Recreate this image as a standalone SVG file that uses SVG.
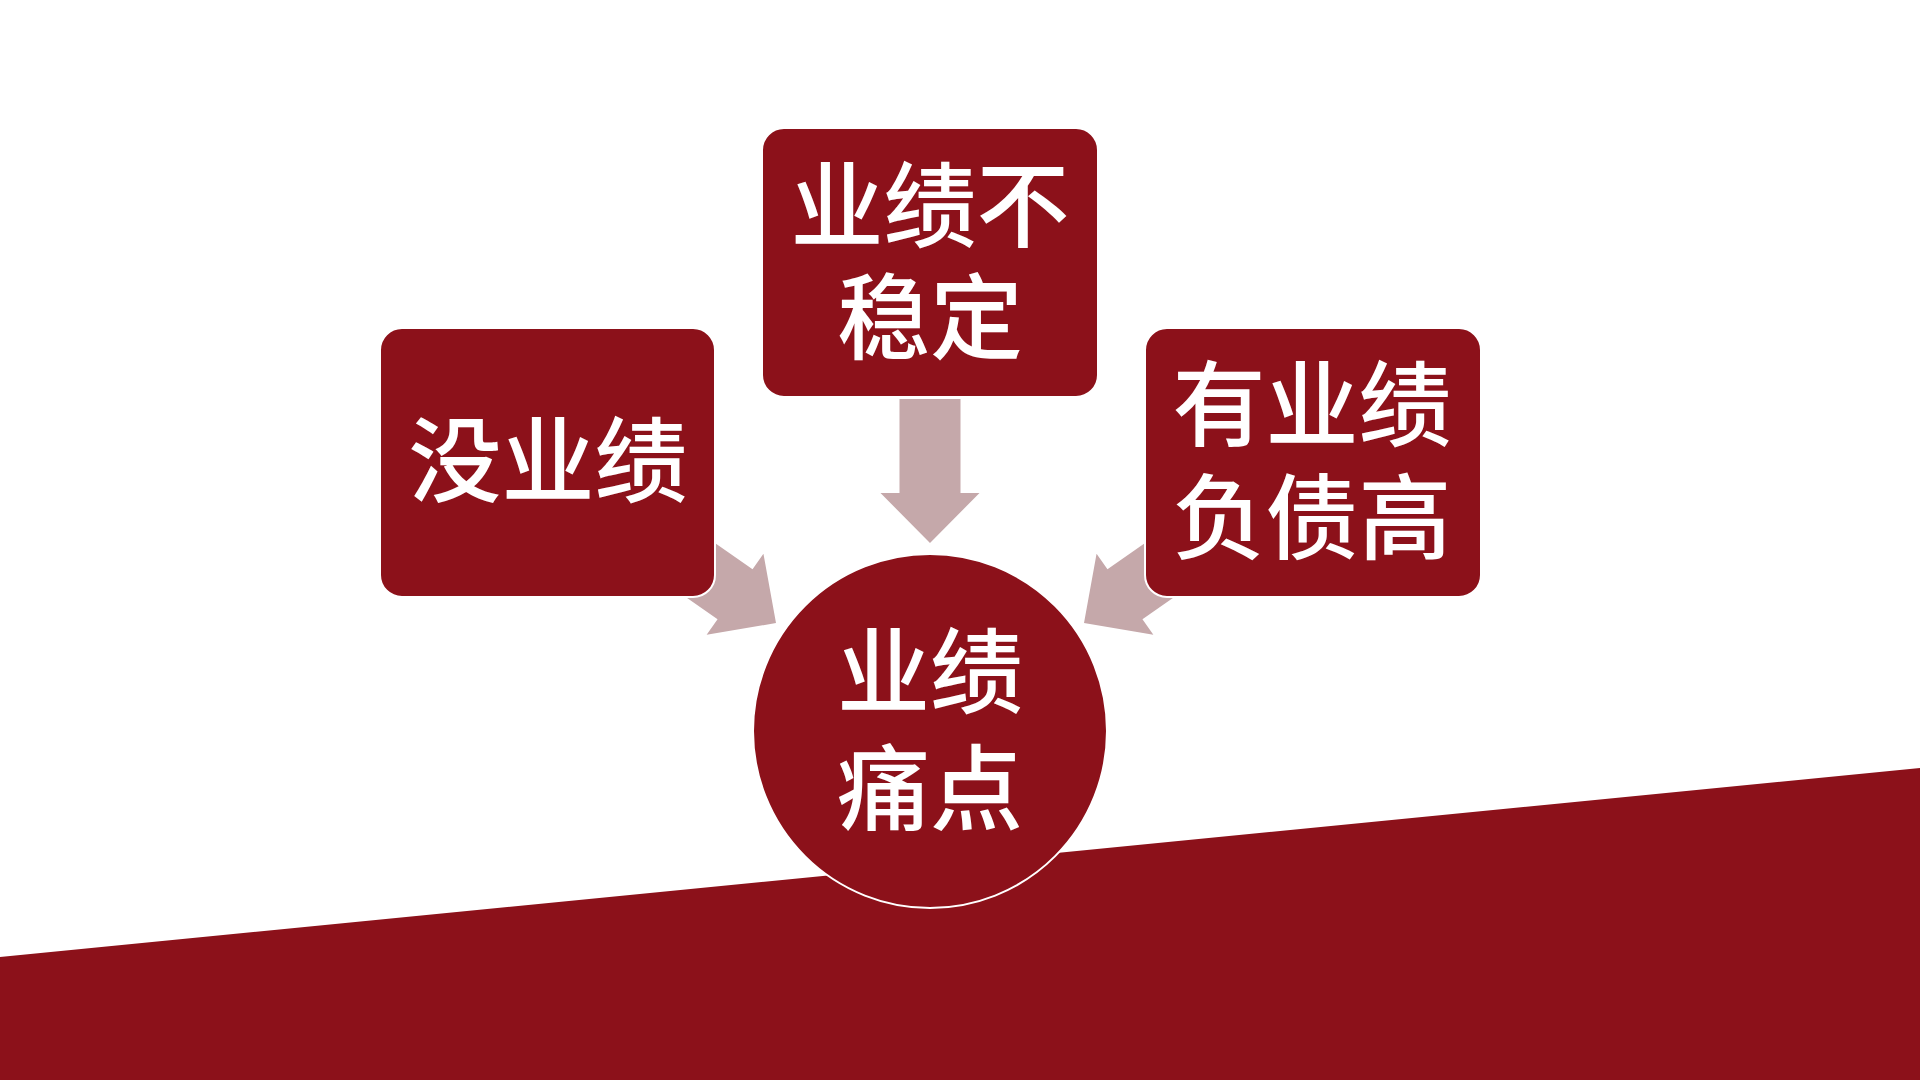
<svg xmlns="http://www.w3.org/2000/svg" width="1920" height="1080" viewBox="0 0 1920 1080">
  <defs>
    <style>
      .node { fill: #8C111A; stroke: #FFFFFF; stroke-width: 2; }
      .arrow { fill: #C5A8AA; stroke: none; }
      .label { fill: #FFFFFF; font-family: "Noto Sans CJK SC", "Noto Sans", sans-serif; font-size: 93px; font-weight: 500; text-anchor: middle; }
    </style>
    <polygon id="arrowShape" class="arrow" points="0,0 -50,-49.5 -50,-30.5 -144,-30.5 -144,30.5 -50,30.5 -50,49.5"/>
  </defs>
  <rect x="0" y="0" width="1920" height="1080" fill="#FFFFFF"/>
  <polygon id="background-band" points="0,957 1920,768 1920,1080 0,1080" fill="#8C111A"/>

  <g id="connectors">
    <use href="#arrowShape" transform="translate(930,543) rotate(90)"/>
    <use href="#arrowShape" transform="translate(776,623) rotate(35)"/>
    <use href="#arrowShape" transform="translate(1084,623) rotate(145)"/>
  </g>

  <g id="node-left">
    <rect class="node" x="380" y="328" width="335" height="269" rx="22" ry="22"/>
    <text class="label" x="548" y="495">没业绩</text>
  </g>

  <g id="node-top">
    <rect class="node" x="762" y="128" width="336" height="269" rx="22" ry="22"/>
    <text class="label"><tspan x="930" y="240">业绩不</tspan><tspan x="930" y="352">稳定</tspan></text>
  </g>

  <g id="node-right">
    <rect class="node" x="1145" y="328" width="336" height="269" rx="22" ry="22"/>
    <text class="label"><tspan x="1312" y="439">有业绩</tspan><tspan x="1312" y="552">负债高</tspan></text>
  </g>

  <g id="node-center">
    <circle class="node" cx="930" cy="731" r="177"/>
    <text class="label"><tspan x="930" y="706">业绩</tspan><tspan x="930" y="823">痛点</tspan></text>
  </g>
</svg>
